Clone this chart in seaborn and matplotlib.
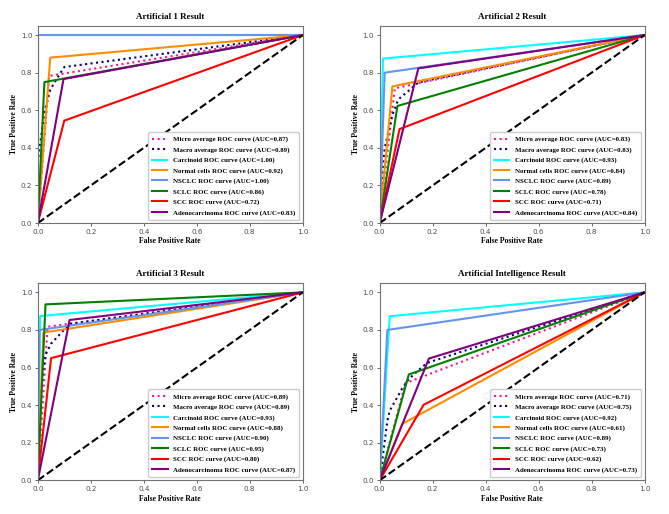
import seaborn as sns
import matplotlib.pyplot as plt

titles = ["Artificial 1 Result", "Artificial 2 Result",
          "Artificial 3 Result", "Artificial Intelligence Result"]
curve_names = ["Micro average", "Macro average", "Carcinoid", "Normal cells",
               "NSCLC", "SCLC", "SCC", "Adenocarcinoma"]
curve_colors = ["deeppink", "navy", "aqua", "darkorange",
                "cornflowerblue", "green", "red", "purple"]

# AUC values shown in the legends (same order as curve_names)
a1_auc = [0.87, 0.89, 1.00, 0.92, 1.00, 0.86, 0.72, 0.83]
a2_auc = [0.83, 0.83, 0.93, 0.84, 0.89, 0.78, 0.71, 0.84]
a3_auc = [0.89, 0.89, 0.93, 0.88, 0.90, 0.95, 0.80, 0.87]
ai_auc = [0.71, 0.75, 0.92, 0.61, 0.89, 0.73, 0.62, 0.73]

# ROC points, one list per curve
a1_fpr = [[0, 0.043, 1], [0, 0, 0.025, 0.047, 0.097, 0.10, 1], [0, 0, 1], [0, 0.047, 1],
          [0, 0, 1], [0, 0.025, 1], [0, 0.10, 1], [0, 0.097, 1]]
a1_tpr = [[0, 0.783, 1], [0, 0.33, 0.59, 0.71, 0.825, 0.83, 1], [0, 1, 1], [0, 0.88, 1],
          [0, 1, 1], [0, 0.75, 1], [0, 0.545, 1], [0, 0.766, 1]]

a2_fpr = [[0, 0.057, 1], [0, 0.0125, 0.019, 0.048, 0.067, 0.075, 0.146, 1], [0, 0.0125, 1],
          [0, 0.048, 1], [0, 0.019, 1], [0, 0.067, 1], [0, 0.075, 1], [0, 0.146, 1]]
a2_tpr = [[0, 0.717, 1], [0, 0.31, 0.40, 0.575, 0.645, 0.663, 0.748, 1], [0, 0.875, 1],
          [0, 0.727, 1], [0, 0.80, 1], [0, 0.623, 1], [0, 0.50, 1], [0, 0.823, 1]]

a3_fpr = [[0, 0.037, 1], [0, 0.006, 0.009, 0.021, 0.029, 0.05, 0.12, 1], [0, 0.009, 1],
          [0, 0.021, 1], [0, 0.006, 1], [0, 0.029, 1], [0, 0.05, 1], [0, 0.12, 1]]
a3_tpr = [[0, 0.817, 1], [0, 0.32, 0.414, 0.594, 0.667, 0.727, 0.832, 1], [0, 0.874, 1],
          [0, 0.786, 1], [0, 0.80, 1], [0, 0.936, 1], [0, 0.65, 1], [0, 0.853, 1]]

ai_fpr = [[0, 0.097, 1], [0, 0.029, 0.038, 0.085, 0.11, 0.166, 0.186, 1], [0, 0.038, 1],
          [0, 0.085, 1], [0, 0.029, 1], [0, 0.11, 1], [0, 0.166, 1], [0, 0.186, 1]]
ai_tpr = [[0, 0.517, 1], [0, 0.315, 0.371, 0.488, 0.539, 0.61, 0.628, 1], [0, 0.873, 1],
          [0, 0.30, 1], [0, 0.80, 1], [0, 0.563, 1], [0, 0.402, 1], [0, 0.648, 1]]

panels = [(a1_fpr, a1_tpr, a1_auc), (a2_fpr, a2_tpr, a2_auc),
          (a3_fpr, a3_tpr, a3_auc), (ai_fpr, ai_tpr, ai_auc)]

serif_bold = {"family": "Liberation Serif", "weight": "bold"}

fig = plt.figure(figsize=(6.69, 5.14), dpi=100)
boxes = [(0.0565, 0.566), (0.5675, 0.566), (0.0565, 0.0655), (0.5675, 0.0655)]

for i, (fpr, tpr, auc) in enumerate(panels):
    ax = fig.add_axes([boxes[i][0], boxes[i][1], 0.396, 0.384])
    for k, name in enumerate(curve_names):
        ls = ":" if k < 2 else "-"
        sns.lineplot(x=fpr[k], y=tpr[k], ax=ax, sort=False, estimator=None,
                     color=curve_colors[k], linestyle=ls, linewidth=1.5,
                     label=f"{name} ROC curve (AUC={auc[k]:.2f})")
    ax.plot([0, 1], [0, 1], "k--", lw=1.5)
    ax.set_xlim(0, 1)
    ax.set_ylim(0, 1.05)
    ax.set_title(titles[i], fontdict=dict(serif_bold, size=6.5), pad=5)
    ax.set_xlabel("False Positive Rate", fontdict=dict(serif_bold, size=5.5), labelpad=2)
    ax.set_ylabel("True Positive Rate", fontdict=dict(serif_bold, size=5.5), labelpad=2)
    ax.tick_params(labelsize=5.2, length=2, width=0.6, pad=2, colors="0.3")
    for s in ax.spines.values():
        s.set_color("0.45")
        s.set_linewidth(0.8)
    ax.legend(loc="lower right", prop=dict(serif_bold, size=4.95),
              handlelength=2.2, labelspacing=0.62, borderpad=0.6,
              framealpha=1, edgecolor="0.8")

fig.savefig("out.png", dpi=100)
